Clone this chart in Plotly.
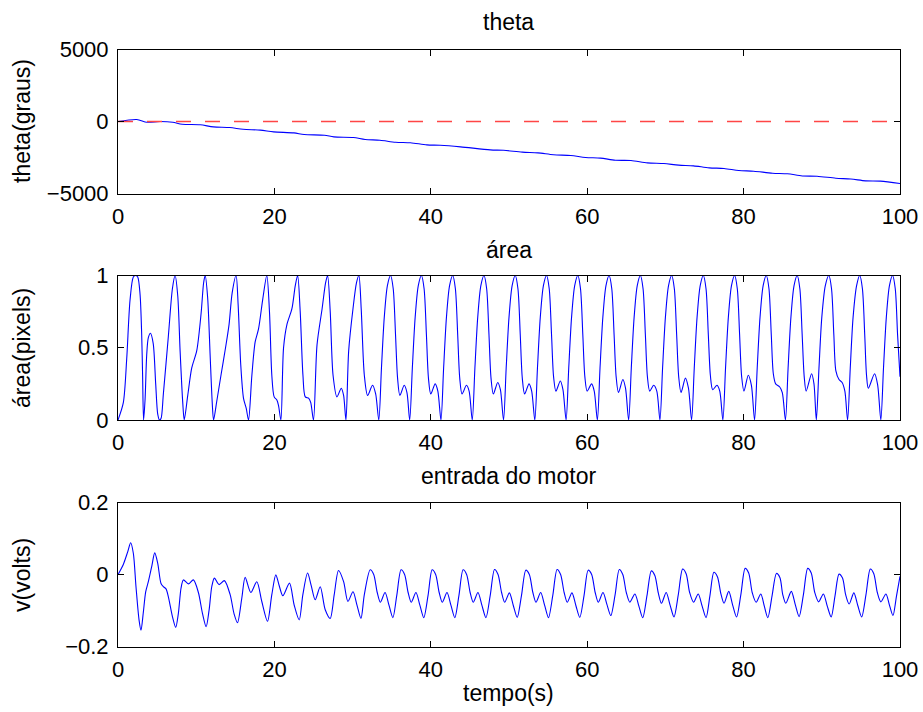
import plotly.graph_objects as go

# ---- theta (degrees) vs time ----
theta_t = [0, 2.4, 3.7, 5.4, 7.0, 8.2, 10.5, 12.2, 14.3, 16.0, 18.2, 19.9, 22.5, 23.8, 26.4,
           27.6, 30.1, 31.6, 33.5, 35.5, 37.4, 39.5, 41.2, 43.8, 47.6, 49.3, 51.7, 53.7, 55.7,
           57.9, 59.8, 61.7, 63.6, 65.6, 67.7, 69.8, 71.7, 73.6, 75.6, 77.5, 79.4, 81.3, 83.7,
           85.6, 87.5, 89.4, 91.8, 93.7, 95.6, 97.5, 100]
theta_v = [0, 140, -50, 0, -50, -190, -230, -370, -420, -540, -600, -720, -790, -905, -950,
           -1070, -1110, -1250, -1300, -1440, -1480, -1620, -1650, -1760, -1970, -2000, -2130,
           -2180, -2310, -2360, -2500, -2540, -2690, -2710, -2870, -2920, -3030, -3080, -3220,
           -3260, -3400, -3450, -3590, -3630, -3780, -3800, -3940, -3990, -4120, -4140, -4310]

# reference angle
ref_t = [0, 100]
ref_v = [0, 0]

# ---- blob area (normalised pixels) vs time ----
area_pts = [
    (0, 0), (0.68, 0.12), (1.11, 0.42), (1.54, 0.83), (1.96, 0.99), (2.25, 1.0), (2.52, 0.99),
    (2.82, 0.87), (3.03, 0.59), (3.15, 0.3), (3.27, 0),
    (3.46, 0.14), (3.67, 0.45), (3.88, 0.57), (4.15, 0.6), (4.5, 0.53), (4.82, 0.25), (5.08, 0.04),
    (5.3, 0), (5.5, 0.01), (5.8, 0.18), (6.44, 0.58), (6.96, 0.91), (7.3, 1.0), (7.64, 0.86),
    (7.94, 0.48), (8.28, 0.12), (8.47, 0),
    (8.92, 0.17), (9.43, 0.36), (10.07, 0.48), (10.63, 0.74), (10.95, 0.95), (11.15, 1.0),
    (11.46, 0.85), (11.78, 0.45), (12.05, 0.12), (12.22, 0),
    (12.63, 0.13), (13.2, 0.32), (13.75, 0.5), (14.2, 0.66), (14.6, 0.88), (15.1, 1.0),
    (15.36, 0.8), (15.7, 0.38), (16.05, 0.15), (16.4, 0.08), (16.69, 0),
    (17.12, 0.31), (17.54, 0.54), (17.97, 0.63), (18.52, 0.84), (19.03, 1.0), (19.37, 0.75),
    (19.67, 0.31), (19.97, 0.16), (20.3, 0.14), (20.53, 0.1), (20.83, 0),
    (21.17, 0.5), (21.6, 0.66), (22.24, 0.77), (22.67, 0.93), (22.97, 1.0), (23.3, 0.75),
    (23.65, 0.31), (23.95, 0.16), (24.4, 0.15), (24.65, 0.12), (25.0, 0),
    (25.45, 0.52), (26.1, 0.77), (26.55, 0.95), (26.8, 1.0), (27.14, 0.75), (27.5, 0.31),
    (28.0, 0.16), (28.55, 0.22), (28.85, 0.17), (29.15, 0),
    (29.5, 0.48), (30.05, 0.77), (30.5, 0.95), (30.8, 1.0), (31.1, 0.77), (31.5, 0.31),
    (31.92, 0.17), (32.55, 0.24), (32.95, 0.18), (33.35, 0),
    (33.69, 0.36), (34.05, 0.71), (34.45, 0.93), (34.85, 1.0), (35.19, 0.91), (35.49, 0.59),
    (35.75, 0.29), (36.05, 0.17), (36.6, 0.24), (36.95, 0.19), (37.3, 0),
    (37.64, 0.36), (38.0, 0.71), (38.4, 0.93), (38.8, 1.0), (39.14, 0.91), (39.44, 0.59),
    (39.7, 0.29), (40.0, 0.18), (40.56, 0.25), (40.9, 0.2), (41.3, 0),
    (41.64, 0.36), (42.0, 0.71), (42.4, 0.93), (42.8, 1.0), (43.14, 0.91), (43.44, 0.59),
    (43.7, 0.29), (44.0, 0.18), (44.56, 0.24), (44.9, 0.2), (45.3, 0),
    (45.64, 0.36), (46.0, 0.71), (46.4, 0.93), (46.8, 1.0), (47.14, 0.91), (47.44, 0.59),
    (47.7, 0.29), (48.0, 0.18), (48.56, 0.26), (48.9, 0.21), (49.3, 0),
    (49.64, 0.36), (50.0, 0.71), (50.4, 0.93), (50.8, 1.0), (51.14, 0.91), (51.44, 0.59),
    (51.7, 0.29), (52.0, 0.18), (52.56, 0.25), (52.9, 0.2), (53.3, 0),
    (53.64, 0.36), (54.0, 0.71), (54.4, 0.93), (54.8, 1.0), (55.14, 0.91), (55.44, 0.59),
    (55.7, 0.3), (56.0, 0.2), (56.56, 0.27), (56.9, 0.21), (57.3, 0),
    (57.64, 0.36), (58.0, 0.71), (58.4, 0.93), (58.8, 1.0), (59.14, 0.91), (59.44, 0.59),
    (59.7, 0.3), (60.0, 0.2), (60.56, 0.25), (60.9, 0.2), (61.3, 0),
    (61.64, 0.36), (62.0, 0.71), (62.4, 0.93), (62.8, 1.0), (63.14, 0.91), (63.44, 0.59),
    (63.7, 0.3), (64.0, 0.19), (64.56, 0.28), (64.9, 0.22), (65.3, 0),
    (65.64, 0.36), (66.0, 0.71), (66.4, 0.93), (66.8, 1.0), (67.14, 0.91), (67.44, 0.59),
    (67.7, 0.3), (68.0, 0.2), (68.5, 0.24), (68.9, 0.2), (69.3, 0),
    (69.64, 0.36), (70.0, 0.71), (70.4, 0.93), (70.8, 1.0), (71.14, 0.91), (71.44, 0.59),
    (71.7, 0.3), (72.0, 0.19), (72.56, 0.29), (72.95, 0.22), (73.35, 0),
    (73.69, 0.36), (74.05, 0.71), (74.45, 0.93), (74.85, 1.0), (75.19, 0.91), (75.49, 0.59),
    (75.75, 0.31), (76.05, 0.21), (76.6, 0.24), (76.95, 0.2), (77.35, 0),
    (77.69, 0.36), (78.05, 0.71), (78.45, 0.93), (78.85, 1.0), (79.19, 0.91), (79.49, 0.59),
    (79.75, 0.3), (80.05, 0.2), (80.6, 0.31), (81.0, 0.24), (81.4, 0),
    (81.74, 0.36), (82.1, 0.71), (82.5, 0.93), (82.9, 1.0), (83.24, 0.91), (83.54, 0.59),
    (83.8, 0.32), (84.1, 0.25), (84.6, 0.23), (84.95, 0.19), (85.35, 0),
    (85.69, 0.36), (86.05, 0.71), (86.45, 0.93), (86.85, 1.0), (87.19, 0.91), (87.49, 0.59),
    (87.75, 0.3), (88.0, 0.2), (88.7, 0.32), (89.0, 0.25), (89.3, 0),
    (89.64, 0.36), (90.0, 0.71), (90.45, 0.93), (90.9, 1.0), (91.24, 0.91), (91.54, 0.59),
    (91.8, 0.34), (92.2, 0.28), (92.6, 0.26), (92.95, 0.2), (93.3, 0),
    (93.64, 0.36), (94.0, 0.71), (94.45, 0.93), (94.85, 1.0), (95.19, 0.91), (95.49, 0.59),
    (95.72, 0.31), (95.95, 0.22), (96.75, 0.32), (97.15, 0.24), (97.55, 0),
    (97.89, 0.36), (98.25, 0.71), (98.65, 0.93), (99.05, 1.0), (99.39, 0.91), (99.69, 0.59),
    (100, 0.3),
]

# ---- motor input (volts) vs time ----
motor_pts = [
    (0, 0.0), (0.68, 0.028), (1.24, 0.063), (1.62, 0.088), (1.96, 0.059), (2.3, -0.034),
    (2.69, -0.126), (2.94, -0.155), (3.24, -0.105), (3.54, -0.048), (3.88, -0.02), (4.31, 0.022),
    (4.7, 0.06), (5.08, 0.031), (5.5, -0.025), (5.8, -0.034), (6.14, -0.04), (6.44, -0.062),
    (6.96, -0.117), (7.38, -0.147), (7.72, -0.108), (8.06, -0.038), (8.36, -0.015), (9.0, -0.026),
    (9.64, -0.015), (10.28, -0.05), (10.8, -0.108), (11.27, -0.145), (11.65, -0.099),
    (11.99, -0.034), (12.33, -0.01), (12.93, -0.028), (13.6, -0.017), (14.34, -0.056),
    (14.85, -0.11), (15.28, -0.134), (15.83, -0.066), (16.26, -0.008), (16.98, -0.05),
    (17.75, -0.02), (18.39, -0.075), (19.12, -0.13), (19.67, -0.056), (20.18, -0.001),
    (20.6, -0.03), (21.08, -0.059), (21.93, -0.024), (22.53, -0.085), (23.17, -0.126),
    (23.64, -0.056), (24.24, 0.004), (24.7, -0.03), (25.22, -0.07), (25.86, -0.034),
    (26.5, -0.098), (27.14, -0.122), (27.65, -0.056), (28.2, 0.011), (28.85, -0.02),
    (29.4, -0.075), (30.05, -0.048), (30.56, -0.085), (31.07, -0.122), (31.5, -0.056),
    (32.25, 0.013),
    (32.7, 0.0), (33.15, -0.05), (33.55, -0.077), (34.15, -0.05), (34.65, -0.085), (35.15, -0.12),
    (35.65, -0.058), (36.2, 0.013),
    (36.65, 0.0), (37.1, -0.05), (37.5, -0.077), (38.1, -0.05), (38.6, -0.085), (39.1, -0.12),
    (39.65, -0.058), (40.17, 0.013),
    (40.62, 0.0), (41.07, -0.05), (41.47, -0.077), (42.07, -0.05), (42.57, -0.085), (43.07, -0.12),
    (43.6, -0.058), (44.13, 0.013),
    (44.58, 0.0), (45.03, -0.05), (45.43, -0.077), (46.03, -0.05), (46.53, -0.085), (47.05, -0.12),
    (47.6, -0.058), (48.15, 0.014),
    (48.6, 0.0), (49.05, -0.05), (49.45, -0.077), (50.05, -0.051), (50.55, -0.086), (51.05, -0.119),
    (51.6, -0.058), (52.15, 0.012),
    (52.6, 0.0), (53.05, -0.05), (53.45, -0.077), (54.05, -0.05), (54.55, -0.085), (55.05, -0.12),
    (55.6, -0.058), (56.15, 0.014),
    (56.6, 0.0), (57.05, -0.05), (57.45, -0.077), (58.05, -0.051), (58.55, -0.086), (59.05, -0.119),
    (59.6, -0.058), (60.12, 0.012),
    (60.57, 0.0), (61.02, -0.05), (61.42, -0.077), (62.02, -0.05), (62.52, -0.083), (63.02, -0.114),
    (63.57, -0.056), (64.1, 0.014),
    (64.55, 0.0), (65.0, -0.05), (65.45, -0.077), (66.1, -0.054), (66.6, -0.087), (67.1, -0.12),
    (67.65, -0.058), (68.2, 0.01),
    (68.65, -0.003), (69.1, -0.052), (69.5, -0.08), (70.1, -0.05), (70.6, -0.085), (71.1, -0.118),
    (71.65, -0.056), (72.2, 0.015),
    (72.65, 0.002), (73.1, -0.05), (73.6, -0.077), (74.2, -0.054), (74.7, -0.088), (75.2, -0.12),
    (75.7, -0.058), (76.2, 0.006),
    (76.65, -0.006), (77.1, -0.054), (77.5, -0.08), (78.1, -0.047), (78.6, -0.085), (79.1, -0.118),
    (79.65, -0.056), (80.2, 0.017),
    (80.65, 0.004), (81.1, -0.05), (81.6, -0.077), (82.2, -0.054), (82.65, -0.088), (83.1, -0.12),
    (83.65, -0.058), (84.2, 0.003),
    (84.65, -0.009), (85.0, -0.055), (85.4, -0.08), (86.1, -0.047), (86.6, -0.083), (87.1, -0.117),
    (87.65, -0.056), (88.2, 0.017),
    (88.65, 0.004), (89.1, -0.05), (89.6, -0.076), (90.2, -0.054), (90.7, -0.088), (91.2, -0.118),
    (91.7, -0.058), (92.2, 0.001),
    (92.65, -0.01), (93.05, -0.056), (93.5, -0.082), (94.1, -0.051), (94.6, -0.086), (95.1, -0.118),
    (95.65, -0.056), (96.2, 0.015),
    (96.65, 0.002), (97.1, -0.05), (97.55, -0.076), (98.2, -0.054), (98.65, -0.085), (99.1, -0.114),
    (99.55, -0.06), (100, -0.005),
]

time_ticks = [0, 20, 40, 60, 80, 100]
theta_ticks = [-5000, 0, 5000]
area_ticks = [0, 0.5, 1]
motor_ticks = [-0.2, 0, 0.2]

area_t = [p[0] for p in area_pts]
area_v = [p[1] for p in area_pts]
motor_t = [p[0] for p in motor_pts]
motor_v = [p[1] for p in motor_pts]

FONT = "Liberation Sans, Arial, Helvetica, sans-serif"
BLUE = "rgb(0,0,255)"
W, H = 923, 712


def minus(s):
    return s.replace("-", "\u2212")


fig = go.Figure()
blue_line = dict(color=BLUE, width=1.1, shape="spline", smoothing=0.8)
fig.add_trace(go.Scatter(x=theta_t, y=theta_v, mode="lines", line=blue_line,
                         xaxis="x", yaxis="y", showlegend=False))
fig.add_trace(go.Scatter(x=ref_t, y=ref_v, mode="lines",
                         line=dict(color="rgb(255,70,70)", width=1.5, dash="15px,14px"),
                         xaxis="x", yaxis="y", showlegend=False))
fig.add_trace(go.Scatter(x=area_t, y=area_v, mode="lines", line=blue_line,
                         xaxis="x2", yaxis="y2", showlegend=False))
fig.add_trace(go.Scatter(x=motor_t, y=motor_v, mode="lines", line=blue_line,
                         xaxis="x3", yaxis="y3", showlegend=False))

# axes boxes in pixels: left, right, top, bottom
x0, x1 = 118, 900
boxes = [(49.5, 193.5), (275.5, 420), (502.5, 646.5)]


def fy(py):
    return 1 - py / H


common = dict(showline=True, linecolor="black", linewidth=1, mirror="ticks",
              ticks="inside", ticklen=6, tickwidth=1, tickcolor="black",
              showgrid=False, zeroline=False, automargin=False,
              tickfont=dict(family=FONT, size=22, color="black"))

layout_axes = {}
yspecs = [([-5000, 5000], theta_ticks), ([0, 1], area_ticks), ([-0.2, 0.2], motor_ticks)]
for i, ((top, bot), (yr, yt)) in enumerate(zip(boxes, yspecs)):
    sfx = "" if i == 0 else str(i + 1)
    layout_axes["xaxis" + sfx] = dict(
        common, domain=[x0 / W, x1 / W], range=[0, 100],
        tickvals=time_ticks, ticktext=[str(v) for v in time_ticks],
        anchor="y" + sfx, ticklabelstandoff=3)
    layout_axes["yaxis" + sfx] = dict(
        common, domain=[fy(bot), fy(top)], range=yr,
        tickvals=yt, ticktext=[minus(f"{v:g}") for v in yt],
        anchor="x" + sfx, ticklabelstandoff=4)

annotations = []
label_font = dict(family=FONT, size=23, color="black")
titles = [("theta", 22), ("área", 250), ("entrada do motor", 476)]
for text, py in titles:
    annotations.append(dict(text=text, x=(x0 + x1) / 2 / W, y=fy(py), xref="paper", yref="paper",
                            showarrow=False, xanchor="center", yanchor="middle", font=label_font))
ylabels = [("theta(graus)", 121), ("área(pixels)", 348), ("v(volts)", 575)]
for text, py in ylabels:
    annotations.append(dict(text=text, x=22 / W, y=fy(py), xref="paper", yref="paper",
                            showarrow=False, xanchor="center", yanchor="middle", textangle=-90,
                            font=label_font))
annotations.append(dict(text="tempo(s)", x=(x0 + x1) / 2 / W, y=fy(693), xref="paper", yref="paper",
                        showarrow=False, xanchor="center", yanchor="middle", font=label_font))

fig.update_layout(
    width=W, height=H,
    margin=dict(l=0, r=0, t=0, b=0, autoexpand=False),
    paper_bgcolor="white", plot_bgcolor="white",
    font=dict(family=FONT, color="black"),
    annotations=annotations,
    **layout_axes,
)

fig.write_html("out.html")
